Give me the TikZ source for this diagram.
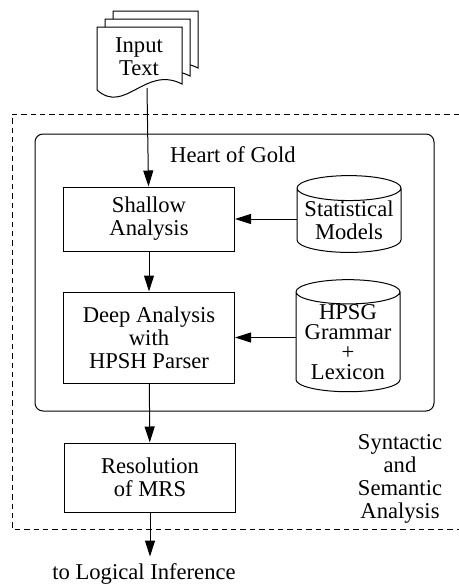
\documentclass[tikz,border=0pt]{standalone}
\usepackage{fontspec}
\setmainfont{Liberation Serif}
\usetikzlibrary{shapes.geometric,arrows.meta}

\tikzset{
	box/.style={draw, line width=0.5pt, minimum width=85.5pt, inner sep=0pt, align=center},
	drum/.style={draw, line width=0.5pt, cylinder, shape border rotate=90, aspect=0.28, minimum width=52pt, inner sep=0pt, align=center},
	arr/.style={line width=0.5pt, -{Triangle[length=8pt,width=5pt]}}
}

\begin{document}
\begin{tikzpicture}[x=0.5pt, y=-0.5pt, font=\fontsize{11.3}{11.5}\selectfont]
			\useasboundingbox (0,0) rectangle (459,584);
			\foreach \d in {16,8,0}
				\draw[line width=0.5pt, fill=white, shift={(\d,-\d)}] (97,27) -- (182,27) -- (182,84) .. controls (145,65) and (125,115) .. (97,90) -- cycle;
			\node[align=center] (input) at (139,57) {Input\\Text};
			\coordinate (doc) at (147,88);
			\draw[line width=0.5pt, dash pattern=on 2.7pt off 2pt] (459,114) -- (12,114) -- (12,529) -- (459,529);
			\draw[line width=0.5pt, rounded corners=4pt] (35,134) rectangle (434,411);
			\node (heart) at (233,155) {Heart of Gold};
			\node[box, minimum height=32pt] (shallow) at (149,219) {Shallow\\Analysis};
			\node[box, minimum height=45.5pt] (deep) at (149,337.5) {Deep Analysis\\with\\HPSH Parser};
			\node[box, minimum height=34.5pt] (res) at (150,477.5) {Resolution\\of MRS};
			\node[drum, minimum height=37.5pt] (stats) at (349,220.5) {Statistical\\Models};
			\node[drum, minimum height=47pt, font=\fontsize{11.3}{10}\selectfont] (hpsg) at (348,342) {HPSG\\Grammar\\+\\Lexicon};
			\node[align=center] (syn) at (400,479) {Syntactic\\and\\Semantic\\Analysis};
			\node (logic) at (144,574) {to Logical Inference};
			\draw[arr] (doc) -- (shallow);
			\draw[arr] (shallow) -- (deep);
			\draw[arr] (deep) -- (res);
			\draw[arr] (res.south) -- (res.south |- logic.north);
			\draw[arr] (stats.west |- shallow.east) -- (shallow.east);
			\draw[arr] (hpsg.west |- deep.east) -- (deep.east);
			\end{tikzpicture}
\end{document}
